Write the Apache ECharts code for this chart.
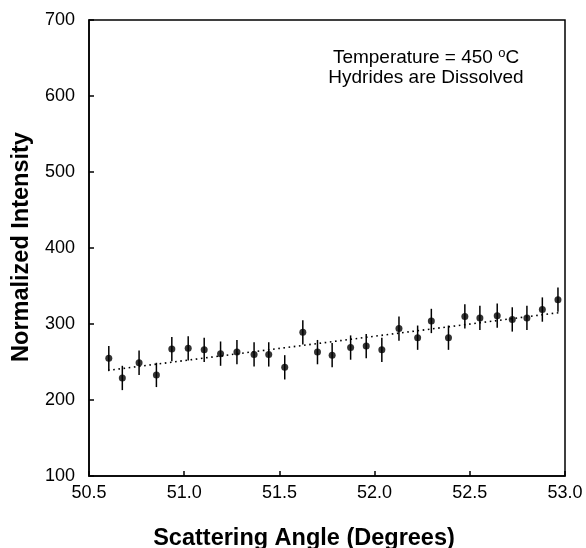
<!DOCTYPE html>
<html>
<head>
<meta charset="utf-8">
<script src="https://cdn.jsdelivr.net/npm/echarts@6/dist/echarts.min.js"></script>
<style>html,body{margin:0;padding:0;background:#fff}#c{width:586px;height:548px}</style>
</head>
<body>
<div id="c"></div>
<script>
const angles = [50.604, 50.675, 50.763, 50.854, 50.935, 51.021, 51.105, 51.191, 51.277, 51.367,
  51.444, 51.528, 51.623, 51.700, 51.777, 51.874, 51.956, 52.038, 52.128, 52.226,
  52.298, 52.388, 52.474, 52.553, 52.644, 52.723, 52.800, 52.881, 52.963];
const intensity = [255, 229, 249, 233, 267, 268, 266, 261, 263, 260,
  260, 243, 289, 263, 259, 269, 271, 266, 294, 282,
  304, 282, 310, 308, 311, 306, 308, 319, 332];
const errors = [16, 16, 16, 16, 16, 16, 16, 16, 16, 16,
  16, 16, 16, 16, 16, 16, 16, 16, 16, 16,
  16, 16, 16, 16, 16, 16, 16, 16, 16];
const fitX = [50.60, 52.97];
const fitY = [239, 315];
const xTicks = ['50.5', '51.0', '51.5', '52.0', '52.5', '53.0'];
const yTicks = [100, 200, 300, 400, 500, 600, 700];

const font = 'Liberation Sans, Arial, sans-serif';
const chart = echarts.init(document.getElementById('c'), null, {renderer: 'canvas'});
const pts = angles.map((a, i) => [a, intensity[i]]);
const bars = angles.map((a, i) => [a, intensity[i] - errors[i], intensity[i] + errors[i]]);
chart.setOption({
  animation: false,
  backgroundColor: '#fff',
  grid: {left: 89, right: 21, top: 20, bottom: 72, show: true, borderColor: '#000', borderWidth: 1.5},
  xAxis: {
    type: 'value', min: 50.5, max: 53.0, interval: 0.5,
    axisLine: {show: true, onZero: false, lineStyle: {color: '#000', width: 1.5}},
    axisTick: {show: true, inside: true, length: 5, lineStyle: {color: '#000', width: 1.5}},
    splitLine: {show: false},
    axisLabel: {color: '#000', fontFamily: font, fontSize: 18, margin: 8,
      formatter: v => xTicks[Math.round((v - 50.5) / 0.5)]}
  },
  yAxis: {
    type: 'value', min: 100, max: 700, interval: 100,
    axisLine: {show: true, lineStyle: {color: '#000', width: 1.5}},
    axisTick: {show: true, inside: true, length: 5, lineStyle: {color: '#000', width: 1.5}},
    splitLine: {show: false},
    axisLabel: {color: '#000', fontFamily: font, fontSize: 18, margin: 14,
      formatter: v => yTicks.includes(v) ? String(v) : ''}
  },
  series: [
    {
      type: 'line', data: fitX.map((x, i) => [x, fitY[i]]), symbol: 'none', silent: true,
      lineStyle: {color: '#000', width: 1.6, type: [1.6, 3.6]}, z: 1
    },
    {
      type: 'custom', data: bars, z: 2,
      renderItem: (params, api) => {
        const p1 = api.coord([api.value(0), api.value(1)]);
        const p2 = api.coord([api.value(0), api.value(2)]);
        return {type: 'line', shape: {x1: p1[0], y1: p1[1], x2: p2[0], y2: p2[1]},
          style: {stroke: '#000', lineWidth: 1.5}};
      },
      encode: {x: 0, y: [1, 2]}
    },
    {
      type: 'scatter', data: pts, symbol: 'circle', symbolSize: 7,
      itemStyle: {color: '#000'}, z: 3
    }
  ],
  graphic: [
    {type: 'text', x: 426, y: 58, style: {
      align: 'center', verticalAlign: 'middle',
      rich: {n: {fontFamily: font, fontSize: 19, fill: '#000'}, s: {fontFamily: font, fontSize: 13, fill: '#000', verticalAlign: 'top', padding: [0, 0, 9, 0]}},
      text: '{n|Temperature = 450 }{s|o}{n|C}'}},
    {type: 'text', x: 426, y: 78, style: {text: 'Hydrides are Dissolved', align: 'center', verticalAlign: 'middle', fontFamily: font, fontSize: 19, fill: '#000'}},
    {type: 'text', x: 304, y: 539, style: {text: 'Scattering Angle (Degrees)', align: 'center', verticalAlign: 'middle', fontFamily: font, fontSize: 23.5, fontWeight: 'bold', fill: '#000'}},
    {type: 'text', x: 22, y: 247, rotation: Math.PI / 2, style: {text: 'Normalized Intensity', align: 'center', verticalAlign: 'middle', fontFamily: font, fontSize: 23.5, fontWeight: 'bold', fill: '#000'}}
  ]
});
</script>
</body>
</html>
